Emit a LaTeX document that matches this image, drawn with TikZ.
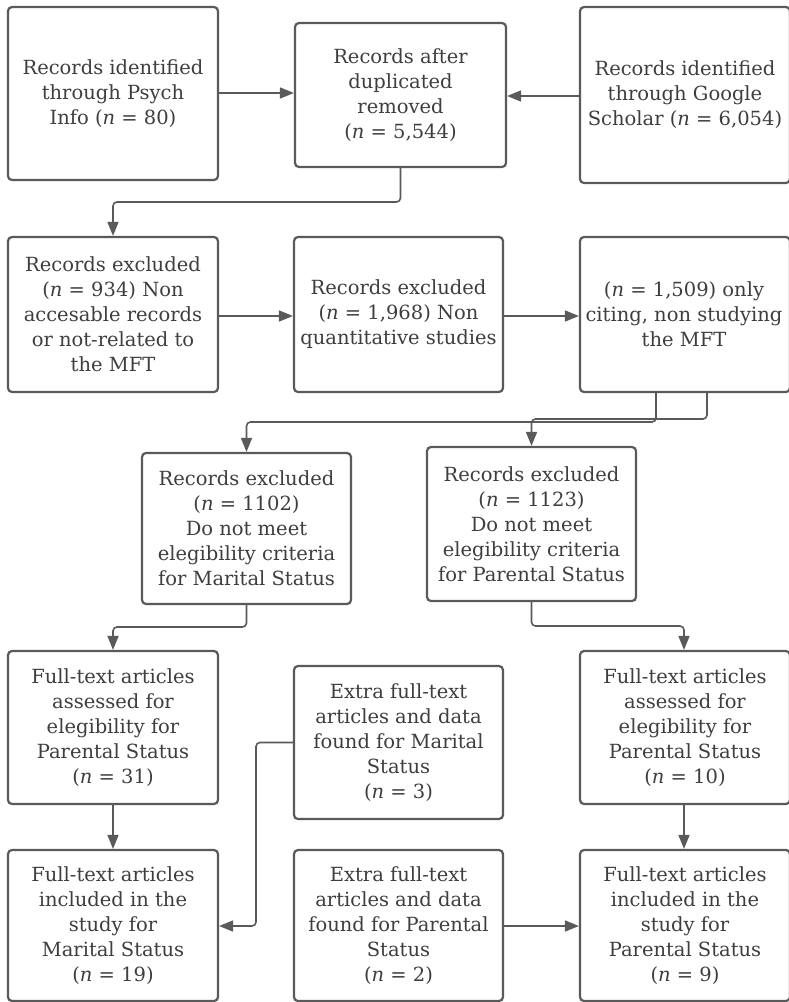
\documentclass[tikz,border=0pt]{standalone}
\usepackage{fontspec}
\setmainfont{DejaVu Serif}
\usetikzlibrary{arrows.meta,calc}
\definecolor{edge}{HTML}{5A5A5A}
\definecolor{txt}{HTML}{3E3E3E}
\begin{document}
\begin{tikzpicture}[x=1pt,y=-1pt,
  box/.style={draw=edge,line width=2.2pt,rounded corners=4pt,fill=white,
    minimum width=210pt,text=txt,align=center,inner sep=0pt,
    font=\fontsize{19.5}{25}\selectfont},
  arr/.style={draw=edge,line width=1.6pt,rounded corners=4pt,
    -{Triangle[length=14pt,width=11pt]}},
  ln/.style={draw=edge,line width=1.6pt,rounded corners=4pt}]
\useasboundingbox (0,0) rectangle (788,1002);
\fill[white] (0,0) rectangle (788,1002);
% row 1
\node[box,minimum height=173pt] (b1) at (113,93.5) {Records identified\\through Psych\\Info (\textit{n} = 80)};
\node[box,minimum height=144pt,minimum width=211pt] (b2) at (400.5,95) {Records after\\duplicated\\removed\\(\textit{n} = 5,544)};
\node[box,minimum height=176pt] (b3) at (685,95) {Records identified\\through Google\\Scholar (\textit{n} = 6,054)};
% row 2
\node[box,minimum height=155pt] (b4) at (113,314.5) {Records excluded\\(\textit{n} = 934) Non\\accesable records\\or not-related to\\the MFT};
\node[box,minimum height=155pt,minimum width=209pt] (b5) at (398.5,314.5) {Records excluded\\(\textit{n} = 1,968) Non\\quantitative studies};
\node[box,minimum height=155pt] (b6) at (685,314.5) {};
\node[text=txt,align=center,inner sep=0pt,font=\fontsize{19.5}{25}\selectfont] (t6) at (684,314.5) {(\textit{n} = 1,509) only\\citing, non studying\\the MFT};
% row 3
\node[box,minimum height=151pt,minimum width=209pt] (b7) at (246.5,528.5) {Records excluded\\(\textit{n} = 1102)\\Do not meet\\elegibility criteria\\for Marital Status};
\node[box,minimum height=154pt,minimum width=209pt] (b8) at (531.5,524) {Records excluded\\(\textit{n} = 1123)\\Do not meet\\elegibility criteria\\for Parental Status};
% row 4
\node[box,minimum height=153pt] (b9) at (113,727.5) {Full-text articles\\assessed for\\elegibility for\\Parental Status\\(\textit{n} = 31)};
\node[box,minimum height=153pt,minimum width=209pt] (b10) at (398.5,742.5) {Extra full-text\\articles and data\\found for Marital\\Status\\(\textit{n} = 3)};
\node[box,minimum height=153pt] (b11) at (685,727.5) {Full-text articles\\assessed for\\elegibility for\\Parental Status\\(\textit{n} = 10)};
% row 5
\node[box,minimum height=151pt] (b12) at (113,925.5) {Full-text articles\\included in the\\study for\\Marital Status\\(\textit{n} = 19)};
\node[box,minimum height=151pt,minimum width=209pt] (b13) at (398.5,925.5) {Extra full-text\\articles and data\\found for Parental\\Status\\(\textit{n} = 2)};
\node[box,minimum height=151pt] (b14) at (685,925.5) {Full-text articles\\included in the\\study for\\Parental Status\\(\textit{n} = 9)};
% connectors
\draw[arr] (b1.east |- 0,93) -- (b2.west |- 0,93);
\draw[arr] (b3.west |- 0,96) -- (b2.east |- 0,96);
\draw[arr] (b2.south) -- (b2.south |- 0,202) -| (b4.north);
\draw[arr] (b4.east |- 0,316) -- (b5.west |- 0,316);
\draw[arr] (b5.east |- 0,316) -- (b6.west |- 0,316);
\coordinate (s6a) at ($(b6.south)+(-29,0)$);
\coordinate (s6b) at ($(b6.south)+(22,0)$);
\draw[arr] (s6a) -- (s6a |- 0,422) -| (b7.north);
\draw[arr] (s6b) -- (s6b |- 0,419) -| (b8.north);
\draw[arr] (b7.south) -- (b7.south |- 0,627) -| (b9.north);
\draw[arr] (b8.south) -- (b8.south |- 0,626) -| (b11.north -| 684,0);
\draw[arr] (b9.south) -- (b12.north);
\draw[arr] (b11.south -| 684,0) -- (b14.north -| 684,0);
\draw[arr] (b10.west) -- (256,742.5) -- (256,926) -- (b12.east |- 0,926);
\draw[arr] (b13.east |- 0,926) -- (b14.west |- 0,926);
\end{tikzpicture}
\end{document}
